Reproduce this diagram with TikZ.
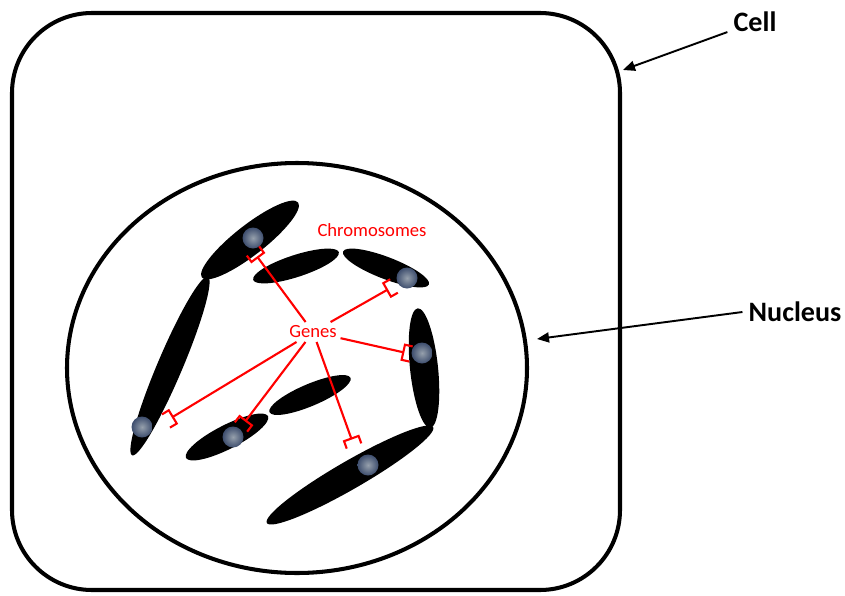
\documentclass[tikz,border=0pt]{standalone}
\usepackage{fontspec}
\setmainfont{Carlito}
\usetikzlibrary{positioning, shapes.geometric, arrows.meta}

\newlength{\pxu}
\setlength{\pxu}{0.02cm}
\definecolor{spotcore}{RGB}{150,160,172}
\definecolor{spotrim}{RGB}{62,78,110}

\begin{document}
\begin{tikzpicture}[
    x=0.02cm, y=-0.02cm,
    outline/.style={draw=black, line width=2.3pt},
    chromo/.style={ellipse, fill=black, inner sep=0pt},
    spot/.style={circle, minimum size=21\pxu, inner sep=0pt, shading=radial, inner color=spotcore, outer color=spotrim},
    pointer/.style={-{Triangle[length=0.24cm, width=0.2cm]}, line width=1.1pt},
    marker/.style={draw=red, line width=1.2pt, -{Bracket[reversed, length=4.5pt, width=10pt]}},
    tag/.style={font=\bfseries\fontsize{16}{18}\selectfont},
    redtag/.style={text=red, font=\fontsize{10.6}{12}\selectfont, inner sep=2pt}
]
    \useasboundingbox (0,0) rectangle (845,595);

    % --- CELL AND NUCLEUS OUTLINES ---
    \draw[outline, rounded corners=80\pxu] (12,13) rectangle (620,590);
    \draw[outline] (297,368) ellipse [x radius=230, y radius=205];

    % --- CHROMOSOMES: x / y / length / thickness / angle ---
    \foreach \n/\x/\y/\len/\wid/\ang in {1/250/240/122/30/38, 2/170/366/194/25/67,
        3/296/266/90/22/18, 4/386/268/92/22/-21, 5/424/368/120/28/96,
        6/350/475/192/28/30, 7/310/395/88/22/23, 8/227/437/92/24/27}
        \node[chromo, minimum width=\len\pxu, minimum height=\wid\pxu, rotate=\ang] (chr\n) at (\x,\y) {};

    % --- GENE SPOTS ---
    \foreach \n/\x/\y in {1/253/238, 2/407/278, 3/422/353, 4/142/427, 5/233/437, 6/368/465}
        \node[spot] (gene\n) at (\x,\y) {};

    % --- LABELS ---
    \node[tag] (cell) at (755,22) {Cell};
    \node[tag] (nucleus) at (795,312) {Nucleus};
    \node[redtag] (chromosomes) at (372,230) {Chromosomes};
    \node[redtag] (genes) at (313,332) {Genes};

    % bracket ends next to the gene spots
    \coordinate (b1) at (253,251);
    \coordinate (b2) at (394,286);
    \coordinate (b3) at (411,354);
    \coordinate (b4) at (166,421);
    \coordinate (b5) at (241,427);
    \coordinate (b6) at (354,446);

    % where the black arrows meet the outlines
    \coordinate (cellrim) at (623,70);
    \coordinate (nucrim) at (537,339);

    % --- CONNECTORS ---
    \foreach \i in {1,...,6}
        \draw[marker] (genes) -- (b\i);
    \draw[pointer] (cell.200) -- (cellrim);
    \draw[pointer] (nucleus.west) -- (nucrim);

\end{tikzpicture}
\end{document}
